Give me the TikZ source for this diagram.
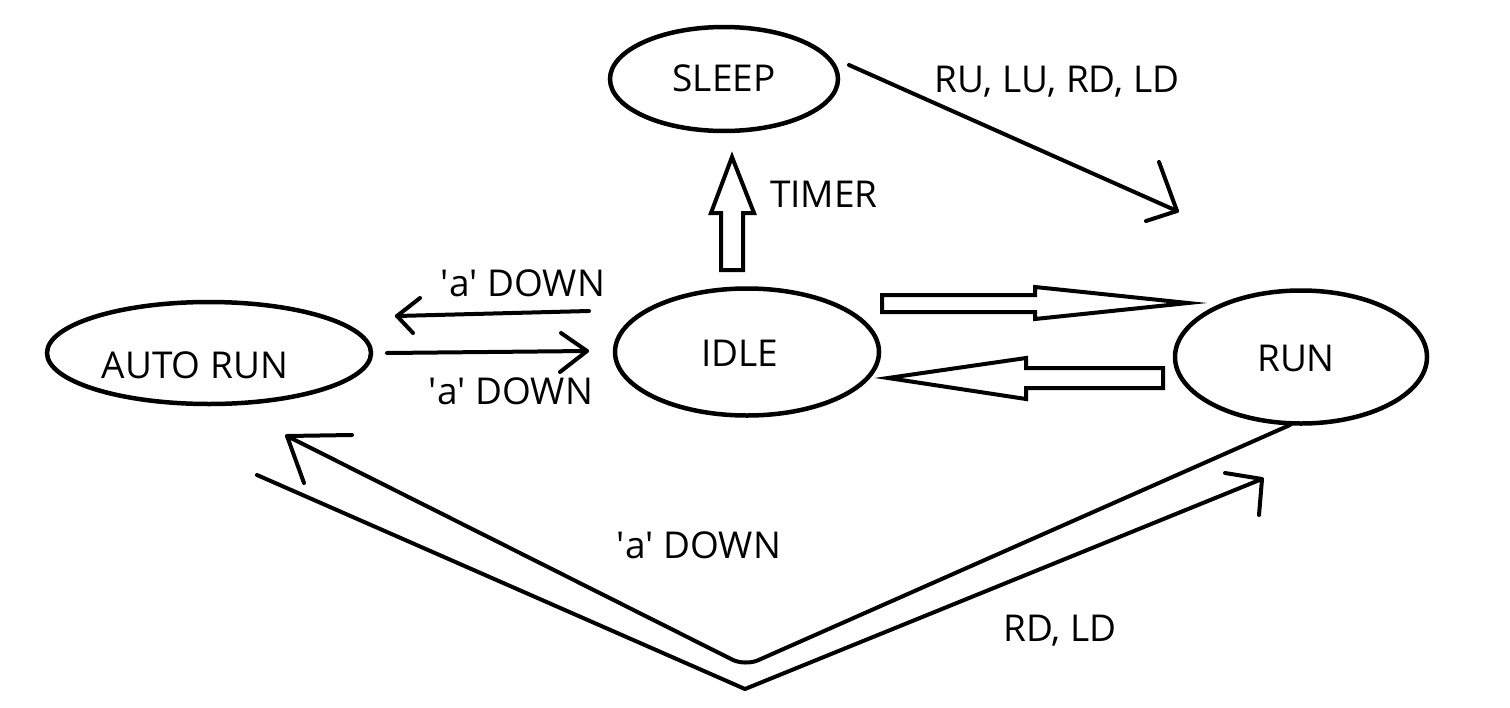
\documentclass[tikz,border=0pt]{standalone}
\usepackage{fontspec}
\setmainfont{Open Sans}
\usetikzlibrary{shapes.geometric}
\newcommand{\sq}{\textquotesingle}
\begin{document}
\begin{tikzpicture}[x=1pt,y=-1pt,
  state/.style={draw, ellipse, inner sep=0pt, line width=4.5pt},
  lbl/.style={font=\fontsize{37}{40}\selectfont, inner sep=0pt, anchor=base},
  wire/.style={draw, line width=4pt, line cap=round, line join=round},
  block/.style={draw, line width=4pt, line join=miter}]
\useasboundingbox (0,0) rectangle (1510,707);

% states
\node[state, minimum width=228pt, minimum height=104pt] (sleep) at (724,79) {};
\node[state, minimum width=264pt, minimum height=127pt] (idle) at (747,352) {};
\node[state, minimum width=252pt, minimum height=133pt] (run) at (1301,357) {};
\node[state, minimum width=324pt, minimum height=102pt] (auto) at (209,353) {};

% state texts
\node[lbl] (sleeptxt) at (724,91.5) {SLEEP};
\node[lbl] (idletxt) at (740,366) {IDLE};
\node[lbl] (runtxt) at (1296,371) {RUN};
\node[lbl] (autotxt) at (195,378) {AUTO RUN};

% edge labels
\node[lbl] (l1) at (1057,92) {RU, LU, RD, LD};
\node[lbl] (l2) at (824,207) {TIMER};
\node[lbl] (l3) at (523,296) {\sq a\sq{} DOWN};
\node[lbl] (l4) at (511,404) {\sq a\sq{} DOWN};
\node[lbl] (l5) at (699,558) {\sq a\sq{} DOWN};
\node[lbl] (l6) at (1060,641) {RD, LD};

% anchor points of the hand drawn connectors
\coordinate (sr0) at (849,65);
\coordinate (sr1) at (1177,211);
\coordinate (sra) at (1159,162);
\coordinate (srb) at (1146,221);

\coordinate (ia0) at (589,311);
\coordinate (ia1) at (397,316);
\coordinate (iaa) at (420,298);
\coordinate (iab) at (413,333);

\coordinate (ai0) at (387,353);
\coordinate (ai1) at (587,351);
\coordinate (aia) at (561,333);
\coordinate (aib) at (560,372);

\coordinate (ra0) at (1290,425);
\coordinate (raM) at (745,666);
\coordinate (ra1) at (287,436);
\coordinate (raa) at (352,435);
\coordinate (rab) at (304,483);

\coordinate (ar0) at (257,475);
\coordinate (arM) at (745,689);
\coordinate (ar1) at (1262,479);
\coordinate (ara) at (1225,473);
\coordinate (arb) at (1259,515);

% SLEEP -> RUN
\draw[wire] (sr0) -- (sr1);
\draw[wire] (sra) -- (sr1) -- (srb);

% IDLE -> AUTO RUN
\draw[wire] (ia0) -- (ia1);
\draw[wire] (iaa) -- (ia1) -- (iab);

% AUTO RUN -> IDLE
\draw[wire] (ai0) -- (ai1);
\draw[wire] (aia) -- (ai1) -- (aib);

% RUN -> AUTO RUN
\draw[wire, rounded corners=14pt] (ra0) -- (raM) -- (ra1);
\draw[wire] (raa) -- (ra1) -- (rab);

% AUTO RUN -> RUN
\draw[wire] (ar0) -- (arM) -- (ar1);
\draw[wire] (ara) -- (ar1) -- (arb);

% IDLE -> SLEEP (block arrow)
\draw[block] (721,270) -- (721,213) -- (711,213) -- (732,157) -- (754,213) -- (743,213) -- (743,270) -- cycle;

% IDLE -> RUN (block arrow)
\draw[block] (882,295) -- (1035,295) -- (1035,287) -- (1188,303) -- (1035,319) -- (1035,312) -- (882,312) -- cycle;

% RUN -> IDLE (block arrow)
\draw[block] (888,378) -- (1026,358) -- (1026,368) -- (1163,368) -- (1163,388) -- (1026,388) -- (1026,399) -- cycle;
\end{tikzpicture}
\end{document}
